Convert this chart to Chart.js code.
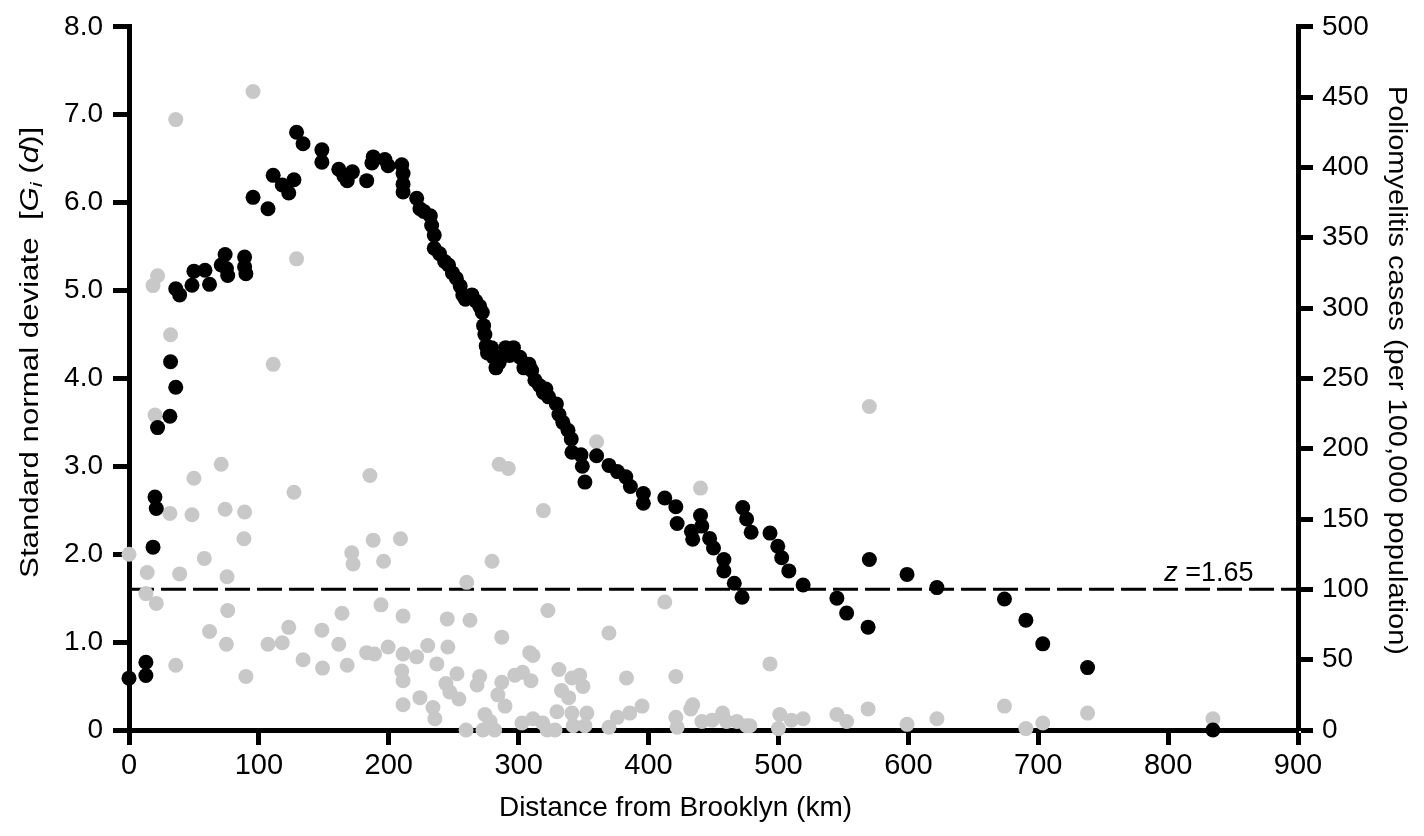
<!DOCTYPE html>
<html lang="en">
<head>
<meta charset="UTF-8">
<title>Poliomyelitis cases and Gi(d) by distance from Brooklyn</title>
<script src="https://cdn.jsdelivr.net/npm/chart.js"></script>
<style>
  body { margin: 0; background: #fff; }
  #wrap { width: 1424px; height: 836px; }
</style>
</head>
<body>
<div id="wrap"><canvas id="chart"></canvas></div>
<script>
// Standard normal deviate Gi(d) (black dots, left axis)
const blackDist = [0, 13, 13, 18.5, 20, 21, 22, 31.5, 32, 36, 36, 39, 48.5, 50, 58.5, 62, 71, 74, 75, 76,
  89, 89, 90, 95.5, 107, 111, 118, 123, 127, 129, 134, 148.5, 148.5, 161.5, 165.5, 168, 172, 183, 187, 188,
  197, 199.5, 210, 211, 211, 211, 221.5, 224, 227, 232, 233, 235, 235, 239, 243, 246, 249, 252, 255, 257,
  259, 264, 267, 270, 272, 273, 274, 275, 276, 279, 280.5, 282.5, 285, 288, 290, 293, 296, 301, 304, 308,
  310, 312.5, 316, 319, 321, 323, 329, 331, 334, 338, 340.5, 341, 348, 349, 351, 360, 369.5, 376, 382.5, 386,
  396, 396, 412.5, 421, 422, 433, 434, 440, 441, 447, 450, 458, 458, 466, 472, 472.5, 475.5, 479, 493.5, 499.5,
  502.5, 508, 519, 545, 552.5, 569, 570, 599, 622, 674, 690.5, 703.5, 738, 834.5];
const blackZ = [0.59, 0.62, 0.77, 2.08, 2.65, 2.52, 3.44, 3.57, 4.19, 3.90, 5.02, 4.95, 5.06, 5.22, 5.23, 5.07, 5.29, 5.41, 5.25, 5.17,
  5.38, 5.27, 5.19, 6.06, 5.93, 6.31, 6.20, 6.11, 6.26, 6.80, 6.67, 6.60, 6.46, 6.38, 6.30, 6.25, 6.35, 6.25, 6.45, 6.52,
  6.49, 6.42, 6.43, 6.33, 6.21, 6.12, 6.05, 5.93, 5.90, 5.85, 5.74, 5.63, 5.48, 5.42, 5.33, 5.29, 5.20, 5.14, 5.05, 4.95,
  4.90, 4.95, 4.88, 4.82, 4.75, 4.60, 4.50, 4.37, 4.29, 4.35, 4.24, 4.12, 4.18, 4.26, 4.35, 4.26, 4.35, 4.24, 4.12, 4.16,
  4.09, 3.98, 3.92, 3.84, 3.88, 3.79, 3.71, 3.59, 3.50, 3.41, 3.31, 3.16, 3.13, 3.00, 2.82, 3.12, 3.01, 2.94, 2.88, 2.77,
  2.69, 2.58, 2.64, 2.54, 2.35, 2.26, 2.17, 2.44, 2.32, 2.18, 2.07, 1.94, 1.81, 1.67, 1.51, 2.53, 2.40, 2.25, 2.24, 2.09,
  1.96, 1.81, 1.65, 1.50, 1.33, 1.17, 1.94, 1.77, 1.62, 1.49, 1.25, 0.98, 0.71, 0.0];

// Poliomyelitis cases per 100,000 (grey dots, right axis)
const greyDist = [0, 13, 14, 18.5, 20, 21, 22, 31.5, 32, 36, 36, 39, 48.5, 50, 58, 62, 71, 74, 75, 75.5,
  76, 88.5, 89, 90, 95.5, 107, 111, 118, 123, 127, 129, 134, 148.5, 149, 161.5, 164, 168, 171.5, 172.5, 183,
  185.5, 188, 189, 194, 196, 199.5, 209, 210, 211, 211, 211, 211, 221.5, 224, 230, 234, 235.5, 237, 244, 245,
  245.5, 247, 252.5, 254, 259.5, 260, 262.5, 268, 270, 272.5, 274, 278, 279.5, 281.5, 284, 285, 287, 287, 289.5, 292,
  297, 302.5, 303, 308.5, 309.5, 311, 311, 318.5, 319, 322, 322.5, 328, 329.5, 331, 333, 338.5, 341, 341, 342, 347,
  349.5, 351, 352.5, 360, 369.5, 369.5, 376, 383, 385.5, 395, 412.5, 421, 421, 422, 432.5, 434, 440, 441, 449, 457,
  460, 468, 475.5, 478, 493.5, 500, 501, 510, 519, 545, 552.5, 569, 570, 599, 622, 674, 690.5, 703.5, 738, 834.5];
const greyCases = [125, 97, 112, 316, 224, 90, 323, 154, 281, 434, 46, 111, 153, 179, 122, 70, 189, 157, 61, 109,
  85, 136, 155, 38, 454, 61, 260, 62, 73, 169, 335, 50, 71, 44, 61, 83, 46, 126, 118, 55,
  181, 135, 54, 89, 120, 59, 136, 42, 81, 54, 35, 18, 52, 23, 60, 16, 8, 47, 33, 79,
  59, 27, 40, 22, 0, 105, 78, 32, 38, 0, 11, 6, 120, 0, 25, 189, 66, 34, 17, 186,
  39, 5, 41, 55, 35, 53, 8, 5, 156, 0, 85, 0, 13, 43, 28, 23, 37, 12, 3, 39,
  31, 3, 12, 205, 69, 2, 9, 37, 12, 17, 91, 38, 9, 2, 15, 18, 172, 6, 7, 12,
  6, 6, 3, 3, 47, 1, 11, 7, 8, 11, 6, 15, 230, 4, 8, 17, 1, 5, 12, 8];

// Significance threshold line (drawn on the cases axis, at its 100 tick)
const zLineCases = 100;
const zLabelDist = 797;

const blackPoints = blackDist.map((d, i) => ({ x: d, y: blackZ[i] }));
const greyPoints = greyDist.map((d, i) => ({ x: d, y: greyCases[i] }));

const plainFont = "'Liberation Sans', Arial, sans-serif";
const narrowFont = "'Liberation Sans Narrow', 'Liberation Sans', Arial, sans-serif";

// draw a row of differently styled text pieces, centred on (cx, cy)
function drawRuns(ctx, runs, cx, cy, angle, stretch) {
  ctx.save();
  ctx.translate(cx, cy);
  ctx.rotate(angle);
  ctx.scale(stretch, 1);
  ctx.textBaseline = 'middle';
  ctx.textAlign = 'left';
  let total = 0;
  runs.forEach(r => { ctx.font = r.font; total += ctx.measureText(r.text).width; });
  let x = -total / 2;
  runs.forEach(r => {
    ctx.font = r.font;
    ctx.fillText(r.text, x, r.dy || 0);
    x += ctx.measureText(r.text).width;
  });
  ctx.restore();
}

const textPlugin = {
  id: 'axisText',
  afterDraw(chart) {
    const { ctx, chartArea: a } = chart;
    const midY = (a.top + a.bottom) / 2;
    ctx.save();
    ctx.fillStyle = '#000';

    // left title with G_i(d)
    drawRuns(ctx, [
      { text: 'Standard normal deviate  [', font: '25px ' + plainFont },
      { text: 'G', font: 'italic 25px ' + plainFont },
      { text: 'i', font: 'italic 17px ' + plainFont, dy: 6 },
      { text: ' (', font: '25px ' + plainFont },
      { text: 'd', font: 'italic 25px ' + plainFont },
      { text: ')]', font: '25px ' + plainFont }
    ], 31, midY - 26, -Math.PI / 2, 1.25);

    // right title
    drawRuns(ctx, [
      { text: 'Poliomyelitis cases (per 100,000 population)', font: '25px ' + plainFont }
    ], 1396, midY - 8, Math.PI / 2, 1.16);

    // x title
    drawRuns(ctx, [
      { text: 'Distance from Brooklyn (km)', font: '28px ' + narrowFont }
    ], (a.left + a.right) / 2 - 38, 808, 0, 1);

    // z = 1.65 label above the dashed line
    const xs = chart.scales.x, ys = chart.scales.y2;
    const lx = xs.getPixelForValue(zLabelDist);
    const ly = ys.getPixelForValue(zLineCases) - 8;
    ctx.textBaseline = 'alphabetic';
    ctx.textAlign = 'left';
    ctx.font = 'italic 27px ' + plainFont;
    ctx.fillText('z', lx, ly);
    const zw = ctx.measureText('z ').width;
    ctx.font = '27px ' + plainFont;
    ctx.fillText('=1.65', lx + zw, ly);
    ctx.restore();
  }
};

const axisGrid = (len) => ({
  drawOnChartArea: false,
  drawTicks: true,
  tickLength: len,
  tickWidth: 5,
  tickColor: '#000'
});
const axisBorder = { color: '#000', width: 5 };

new Chart(document.getElementById('chart'), {
  type: 'scatter',
  data: {
    datasets: [
      {
        label: 'Gi(d)',
        data: blackPoints,
        yAxisID: 'y',
        backgroundColor: '#000',
        pointRadius: 7.5,
        pointBorderWidth: 0,
        clip: false,
        order: 1
      },
      {
        label: 'Cases',
        data: greyPoints,
        yAxisID: 'y2',
        backgroundColor: '#c8c8c8',
        pointRadius: 7.5,
        pointBorderWidth: 0,
        clip: false,
        order: 2
      },
      {
        label: 'z = 1.65',
        type: 'line',
        data: [{ x: 0, y: zLineCases }, { x: 900, y: zLineCases }],
        yAxisID: 'y2',
        borderColor: '#000',
        borderWidth: 3,
        borderDash: [25, 7],
        pointRadius: 0,
        fill: false,
        order: 3
      }
    ]
  },
  options: {
    responsive: true,
    maintainAspectRatio: false,
    animation: false,
    layout: { padding: { top: 22, left: 0, right: 0, bottom: 0 } },
    plugins: { legend: { display: false }, tooltip: { enabled: false } },
    scales: {
      x: {
        type: 'linear',
        min: 0,
        max: 900,
        ticks: { stepSize: 100, color: '#000', padding: 4, maxRotation: 0, font: { family: narrowFont, size: 29 } },
        grid: axisGrid(15),
        border: axisBorder,
        afterFit: s => { s.height = 106; }
      },
      y: {
        position: 'left',
        min: 0,
        max: 8,
        ticks: {
          stepSize: 1,
          color: '#000',
          padding: 10,
          font: { family: plainFont, size: 28 },
          callback: v => v === 0 ? '0' : v.toFixed(1)
        },
        grid: axisGrid(16),
        border: axisBorder,
        afterFit: s => { s.width = 129; }
      },
      y2: {
        position: 'right',
        min: 0,
        max: 500,
        ticks: { stepSize: 50, color: '#000', padding: 9, font: { family: plainFont, size: 28 } },
        grid: axisGrid(15),
        border: axisBorder,
        afterFit: s => { s.width = 126; }
      }
    }
  },
  plugins: [textPlugin]
});
</script>
</body>
</html>
